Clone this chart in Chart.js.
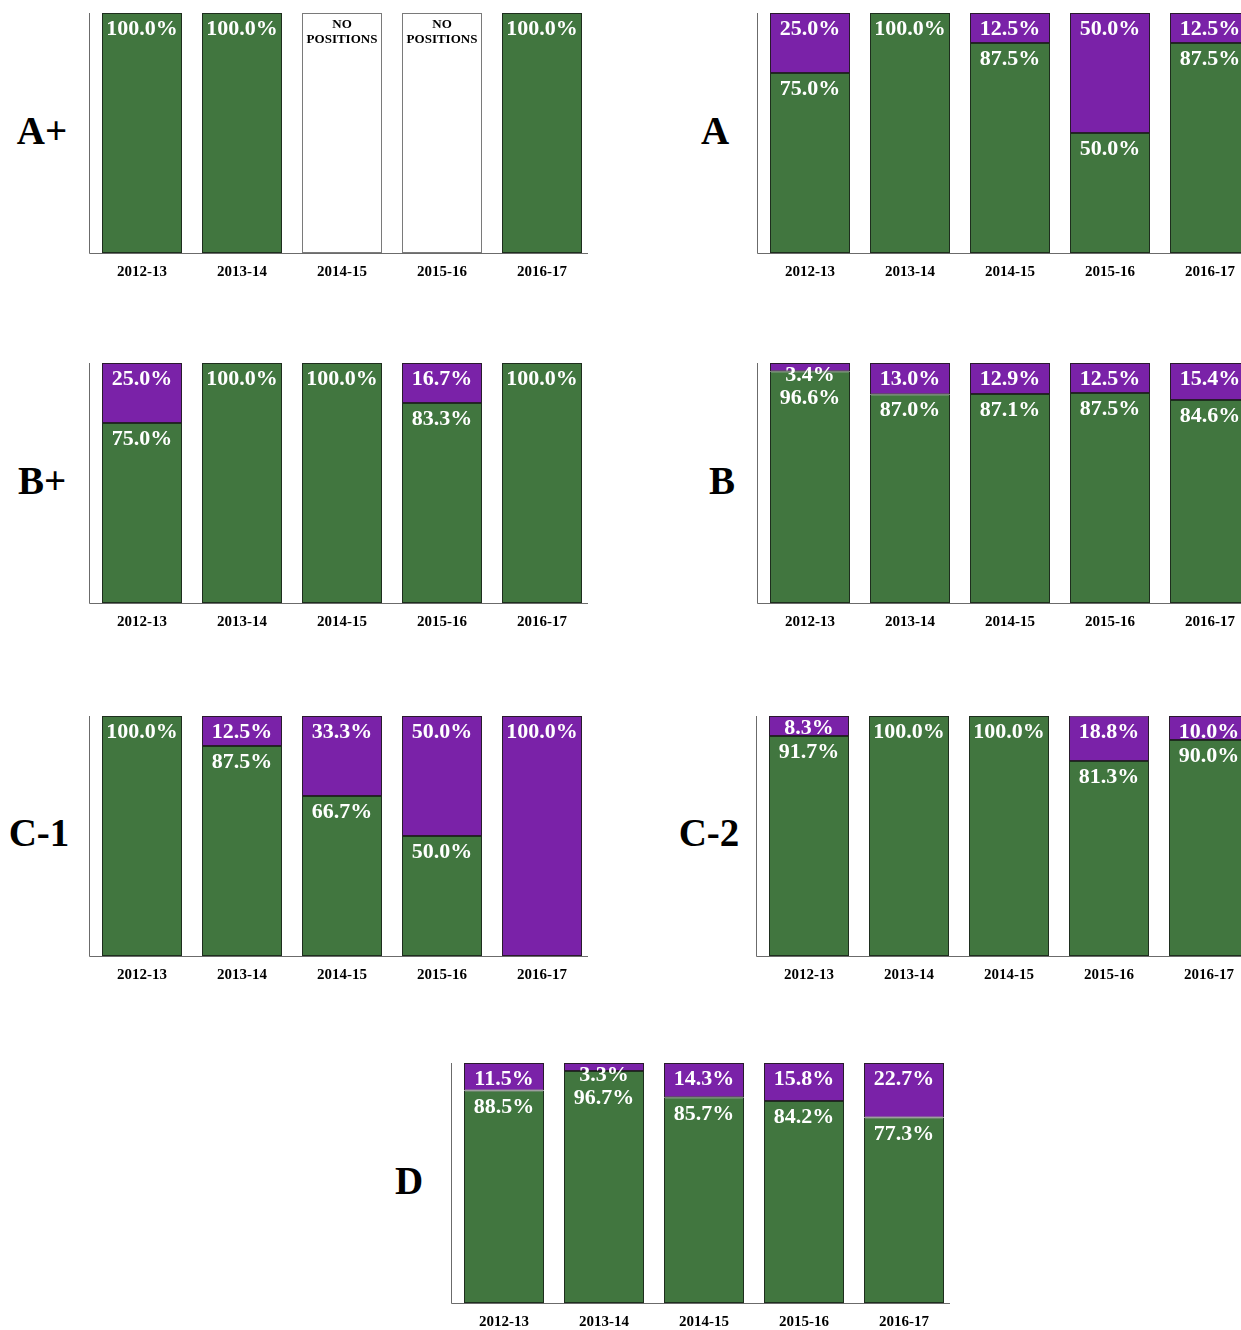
<!DOCTYPE html>
<html>
<head>
<meta charset="utf-8">
<script src="https://cdn.jsdelivr.net/npm/chart.js@4/dist/chart.umd.min.js"></script>
<style>
  html, body { margin: 0; padding: 0; background: #fff; }
  body { width: 1241px; height: 1330px; position: relative; overflow: hidden; }
  canvas { position: absolute; }
  .grade {
    position: absolute; width: 100px; height: 50px; line-height: 50px;
    text-align: center; font: bold 39px "Liberation Serif", "Times New Roman", serif; color: #000;
  }
</style>
</head>
<body>
<script>
const years = ["2012-13", "2013-14", "2014-15", "2015-16", "2016-17"];

// green = share shown at bottom, purple = share shown on top; null = no positions
const aPlusGreen = [100, 100, null, null, 100];
const aPlusPurple = [0, 0, null, null, 0];
const aGreen = [75.0, 100, 87.5, 50.0, 87.5];
const aPurple = [25.0, 0, 12.5, 50.0, 12.5];
const bPlusGreen = [75.0, 100, 100, 83.3, 100];
const bPlusPurple = [25.0, 0, 0, 16.7, 0];
const bGreen = [96.6, 87.0, 87.1, 87.5, 84.6];
const bPurple = [3.4, 13.0, 12.9, 12.5, 15.4];
const c1Green = [100, 87.5, 66.7, 50.0, 0];
const c1Purple = [0, 12.5, 33.3, 50.0, 100];
const c2Green = [91.7, 100, 100, 81.3, 90.0];
const c2Purple = [8.3, 0, 0, 18.8, 10.0];
const dGreen = [88.5, 96.7, 85.7, 84.2, 77.3];
const dPurple = [11.5, 3.3, 14.3, 15.8, 22.7];

const GREEN = "#41763f";
const PURPLE = "#7a22a8";
const SERIF = '"Liberation Serif", "Times New Roman", serif';

// where each panel's plot area sits on the page
const panels = [
  { name: "A+", green: aPlusGreen, purple: aPlusPurple, left: 92, top: 13, gx: 42, gy: 133 },
  { name: "A", green: aGreen, purple: aPurple, left: 760, top: 13, gx: 715, gy: 133 },
  { name: "B+", green: bPlusGreen, purple: bPlusPurple, left: 92, top: 363, gx: 42, gy: 483 },
  { name: "B", green: bGreen, purple: bPurple, left: 760, top: 363, gx: 722, gy: 483 },
  { name: "C-1", green: c1Green, purple: c1Purple, left: 92, top: 716, gx: 39, gy: 835 },
  { name: "C-2", green: c2Green, purple: c2Purple, left: 759, top: 716, gx: 709, gy: 835 },
  { name: "D", green: dGreen, purple: dPurple, left: 454, top: 1063, gx: 409, gy: 1183 },
];

const PLOT_W = 500;
const PLOT_H = 240;
const PAD_L = 10;
const AXIS_H = 40;

const axesPlugin = {
  id: "axesLines",
  beforeDatasetsDraw(chart) {
    const { ctx, chartArea } = chart;
    const x0 = Math.round(chartArea.left - 3) + 0.5;
    const y0 = Math.round(chartArea.bottom) + 0.5;
    ctx.save();
    ctx.strokeStyle = "#6b6b6b";
    ctx.lineWidth = 1;
    ctx.beginPath();
    ctx.moveTo(x0, chartArea.top);
    ctx.lineTo(x0, y0);
    ctx.lineTo(chartArea.right - 4, y0);
    ctx.stroke();
    ctx.restore();
  },
};

const fmt = (v) => v.toFixed(1) + "%";

const labelsPlugin = {
  id: "segLabels",
  afterDatasetsDraw(chart) {
    const { ctx } = chart;
    const g = chart.data.datasets[0].data;
    const p = chart.data.datasets[1].data;
    const gMeta = chart.getDatasetMeta(0);
    const pMeta = chart.getDatasetMeta(1);
    const nMeta = chart.getDatasetMeta(2);
    ctx.save();
    ctx.textAlign = "center";
    ctx.textBaseline = "middle";
    g.forEach((gv, i) => {
      if (gv === null) {
        const el = nMeta.data[i];
        ctx.fillStyle = "#000";
        ctx.font = "bold 13px " + SERIF;
        ctx.fillText("NO", el.x, el.y + 12);
        ctx.fillText("POSITIONS", el.x, el.y + 27);
        return;
      }
      ctx.fillStyle = "#fff";
      ctx.font = "bold 22px " + SERIF;
      let py = null;
      if (p[i] > 0) {
        const el = pMeta.data[i];
        const h = el.base - el.y;
        py = h < 22 ? el.y + 12 : el.y + 16.5;
        ctx.fillText(fmt(p[i]), el.x, py);
      }
      if (gv > 0) {
        const el = gMeta.data[i];
        let gy = el.y + 16.5;
        if (py !== null && gy < py + 23) gy = py + 23;
        ctx.fillText(fmt(gv), el.x, gy);
      }
    });
    ctx.restore();
  },
};

panels.forEach((pn) => {
  const grade = document.createElement("div");
  grade.className = "grade";
  grade.textContent = pn.name;
  grade.style.left = pn.gx - 50 + "px";
  grade.style.top = pn.gy - 25 + "px";
  document.body.appendChild(grade);

  const canvas = document.createElement("canvas");
  canvas.width = PLOT_W + PAD_L;
  canvas.height = PLOT_H + AXIS_H;
  canvas.style.left = pn.left - PAD_L + "px";
  canvas.style.top = pn.top + "px";
  document.body.appendChild(canvas);

  const none = pn.green.map((v) => (v === null ? 100 : null));

  new Chart(canvas.getContext("2d"), {
    type: "bar",
    data: {
      labels: years,
      datasets: [
        {
          label: "green",
          data: pn.green,
          backgroundColor: GREEN,
          borderColor: "#1e2e1e",
          borderWidth: 1,
          borderSkipped: false,
        },
        {
          label: "purple",
          data: pn.purple,
          backgroundColor: PURPLE,
          borderColor: "#2a1a2e",
          borderWidth: 1,
          borderSkipped: false,
        },
        {
          label: "no positions",
          data: none,
          backgroundColor: "#fff",
          borderColor: "#7a7a7a",
          borderWidth: 1,
          borderSkipped: false,
        },
      ],
    },
    options: {
      responsive: false,
      animation: false,
      devicePixelRatio: 1,
      layout: { padding: { left: PAD_L, right: 0, top: 0, bottom: 0 } },
      datasets: { bar: { barPercentage: 0.8, categoryPercentage: 1 } },
      plugins: {
        legend: { display: false },
        tooltip: { enabled: false },
      },
      scales: {
        x: {
          stacked: true,
          grid: { display: false, drawTicks: false },
          border: { display: false },
          ticks: {
            color: "#000",
            padding: 10,
            font: { family: SERIF, size: 15, weight: "bold" },
          },
          afterFit: (scale) => { scale.height = AXIS_H; },
        },
        y: {
          stacked: true,
          display: false,
          min: 0,
          max: 100,
        },
      },
    },
    plugins: [axesPlugin, labelsPlugin],
  });
});
</script>
</body>
</html>
